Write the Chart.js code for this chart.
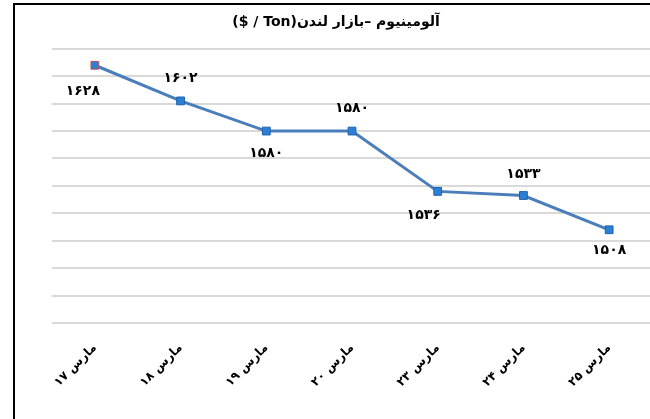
<!DOCTYPE html>
<html>
<head>
    <title>آلومینیوم - بازار لندن</title>
    <script src="https://cdn.jsdelivr.net/npm/chart.js"></script>
    <style>
        body { margin: 0; background: #fff; overflow: hidden; width: 650px; height: 419px; }
        #wrap { position: absolute; left: 0; top: 0; width: 670px; height: 419px; }
        #frame { position: absolute; left: 13px; top: 3px; width: 700px; height: 500px; border: 2px solid #000; pointer-events: none; }
    </style>
</head>
<body>
    <div id="wrap" dir="rtl">
        <canvas id="aluChart" width="670" height="419"></canvas>
    </div>
    <div id="frame"></div>
    <script>
        // chart data
        const months = ['مارس ۱۷', 'مارس ۱۸', 'مارس ۱۹', 'مارس ۲۰', 'مارس ۲۳', 'مارس ۲۴', 'مارس ۲۵'];
        const prices = [1628, 1602, 1580, 1580, 1536, 1533, 1508];
        const chartTitle = 'آلومینیوم –بازار لندن(Ton / $)';

        // where each value label sits relative to its point
        const labelDy = [26, -23, 22, -23, 24, -21, 21];
        const labelDx = [-12, 0, 0, 0, -14, 0, 0];

        const faDigits = '۰۱۲۳۴۵۶۷۸۹';
        const toFa = v => String(v).replace(/\d/g, d => faDigits[d]);

        const valueLabels = {
            id: 'valueLabels',
            afterDatasetsDraw(chart) {
                const ctx = chart.ctx;
                const meta = chart.getDatasetMeta(0);
                ctx.save();
                ctx.font = 'bold 14px "DejaVu Sans"';
                ctx.fillStyle = '#000';
                ctx.textAlign = 'center';
                ctx.textBaseline = 'middle';
                meta.data.forEach((pt, i) => {
                    ctx.fillText(toFa(prices[i]), pt.x + labelDx[i], pt.y + labelDy[i]);
                });
                ctx.restore();
            }
        };

        const ctx = document.getElementById('aluChart').getContext('2d');
        new Chart(ctx, {
            type: 'line',
            data: {
                labels: months,
                datasets: [{
                    data: prices,
                    borderColor: '#4a7ebb',
                    borderWidth: 3,
                    pointStyle: 'rect',
                    pointRadius: 5.5,
                    pointBackgroundColor: '#2b80d6',
                    pointBorderColor: ['#c0504d', '#1f62ad', '#1f62ad', '#1f62ad', '#1f62ad', '#1f62ad', '#1f62ad'],
                    pointBorderWidth: 1,
                    tension: 0
                }]
            },
            options: {
                responsive: false,
                animation: false,
                layout: { padding: { top: 0, right: 18, bottom: 0, left: 20 } },
                scales: {
                    x: {
                        offset: true,
                        grid: { display: false },
                        border: { display: false },
                        ticks: {
                            minRotation: 45,
                            maxRotation: 45,
                            padding: 10,
                            color: '#000',
                            font: { family: 'DejaVu Sans', weight: 'bold', size: 12 }
                        },
                        afterFit(scale) { scale.height = 96; }
                    },
                    y: {
                        min: 1440,
                        max: 1640,
                        ticks: { display: false, stepSize: 20 },
                        border: { display: false },
                        grid: { color: '#d9d9d9', lineWidth: 2, drawTicks: false },
                        afterFit(scale) { scale.width = 32; }
                    }
                },
                plugins: {
                    legend: { display: false },
                    tooltip: { enabled: false },
                    title: {
                        display: true,
                        text: chartTitle,
                        color: '#000',
                        font: { family: 'DejaVu Sans', weight: 'bold', size: 14 },
                        padding: { top: 14, bottom: 18 }
                    }
                }
            },
            plugins: [valueLabels]
        });
    </script>
</body>
</html>
